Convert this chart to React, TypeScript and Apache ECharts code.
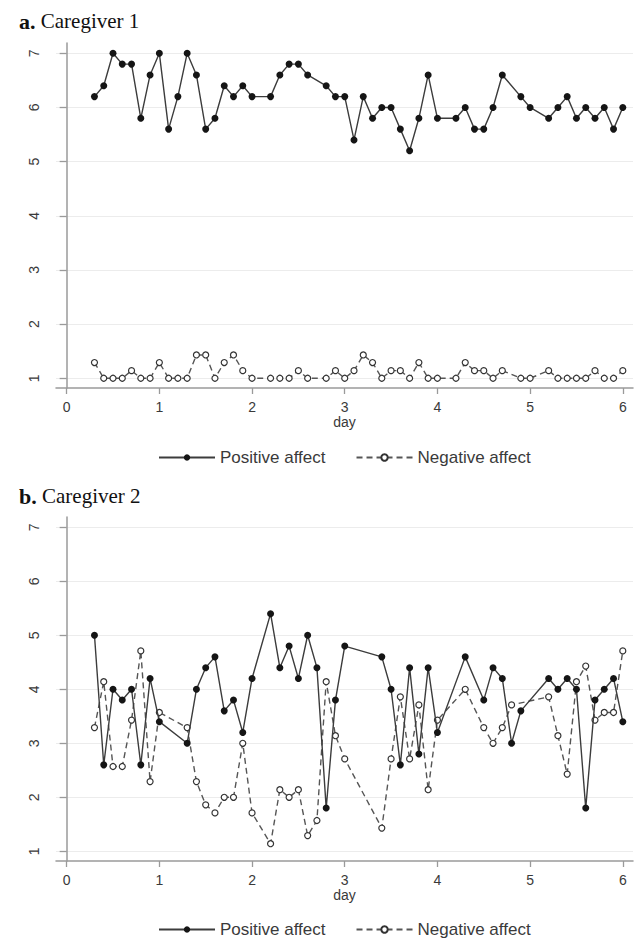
import React, { useEffect, useRef } from "react";
import * as echarts from "echarts";

// Panel a — Caregiver 1
const days1 = [
  0.3, 0.4, 0.5, 0.6, 0.7, 0.8, 0.9, 1.0, 1.1, 1.2, 1.3, 1.4, 1.5, 1.6, 1.7, 1.8, 1.9, 2.0,
  2.2, 2.3, 2.4, 2.5, 2.6,
  2.8, 2.9, 3.0, 3.1, 3.2, 3.3, 3.4, 3.5, 3.6, 3.7, 3.8, 3.9, 4.0,
  4.2, 4.3, 4.4, 4.5, 4.6, 4.7,
  4.9, 5.0,
  5.2, 5.3, 5.4, 5.5, 5.6, 5.7, 5.8, 5.9, 6.0,
];
const positive1 = [
  6.2, 6.4, 7.0, 6.8, 6.8, 5.8, 6.6, 7.0, 5.6, 6.2, 7.0, 6.6, 5.6, 5.8, 6.4, 6.2, 6.4, 6.2,
  6.2, 6.6, 6.8, 6.8, 6.6,
  6.4, 6.2, 6.2, 5.4, 6.2, 5.8, 6.0, 6.0, 5.6, 5.2, 5.8, 6.6, 5.8,
  5.8, 6.0, 5.6, 5.6, 6.0, 6.6,
  6.2, 6.0,
  5.8, 6.0, 6.2, 5.8, 6.0, 5.8, 6.0, 5.6, 6.0,
];
const negative1 = [
  1.29, 1.0, 1.0, 1.0, 1.14, 1.0, 1.0, 1.29, 1.0, 1.0, 1.0, 1.43, 1.43, 1.0, 1.29, 1.43, 1.14, 1.0,
  1.0, 1.0, 1.0, 1.14, 1.0,
  1.0, 1.14, 1.0, 1.14, 1.43, 1.29, 1.0, 1.14, 1.14, 1.0, 1.29, 1.0, 1.0,
  1.0, 1.29, 1.14, 1.14, 1.0, 1.14,
  1.0, 1.0,
  1.14, 1.0, 1.0, 1.0, 1.0, 1.14, 1.0, 1.0, 1.14,
];

// Panel b — Caregiver 2
const days2 = [
  0.3, 0.4, 0.5, 0.6, 0.7, 0.8, 0.9, 1.0,
  1.3, 1.4, 1.5, 1.6, 1.7, 1.8, 1.9, 2.0,
  2.2, 2.3, 2.4, 2.5, 2.6, 2.7, 2.8, 2.9, 3.0,
  3.4, 3.5, 3.6, 3.7, 3.8, 3.9, 4.0,
  4.3, 4.5, 4.6, 4.7, 4.8, 4.9,
  5.2, 5.3, 5.4, 5.5, 5.6, 5.7, 5.8, 5.9, 6.0,
];
const positive2 = [
  5.0, 2.6, 4.0, 3.8, 4.0, 2.6, 4.2, 3.4,
  3.0, 4.0, 4.4, 4.6, 3.6, 3.8, 3.2, 4.2,
  5.4, 4.4, 4.8, 4.2, 5.0, 4.4, 1.8, 3.8, 4.8,
  4.6, 4.0, 2.6, 4.4, 2.8, 4.4, 3.2,
  4.6, 3.8, 4.4, 4.2, 3.0, 3.6,
  4.2, 4.0, 4.2, 4.0, 1.8, 3.8, 4.0, 4.2, 3.4,
];
const negative2 = [
  3.29, 4.14, 2.57, 2.57, 3.43, 4.71, 2.29, 3.57,
  3.29, 2.29, 1.86, 1.71, 2.0, 2.0, 3.0, 1.71,
  1.14, 2.14, 2.0, 2.14, 1.29, 1.57, 4.14, 3.14, 2.71,
  1.43, 2.71, 3.86, 2.71, 3.71, 2.14, 3.43,
  4.0, 3.29, 3.0, 3.29, 3.71, null,
  3.86, 3.14, 2.43, 4.14, 4.43, 3.43, 3.57, 3.57, 4.71,
];

const xTicks = [0, 1, 2, 3, 4, 5, 6];
const yTicks = [1, 2, 3, 4, 5, 6, 7];
const seriesNames = ["Positive affect", "Negative affect"];
const panelTitles = ["Caregiver 1", "Caregiver 2"];
const panelLetters = ["a.", "b."];

const SANS = "Liberation Sans, Arial, Helvetica, sans-serif";
const SERIF = "Liberation Serif, Times New Roman, serif";
const AXIS_COLOR = "#9a9a9a";
const TEXT_COLOR = "#3a3a3a";

function pairs(days: number[], vals: (number | null)[]) {
  return days.map((d, i) => [d, vals[i]]);
}

export default function App() {
  const ref = useRef<HTMLDivElement>(null);

  useEffect(() => {
    if (!ref.current) return;
    const chart = echarts.init(ref.current, null, { renderer: "svg" });

    const grids = [
      { left: 56, top: 43, width: 577, height: 345 },
      { left: 56, top: 517, width: 577, height: 344 },
    ];

    const xAxis = grids.map((_, i) => ({
      type: "value",
      gridIndex: i,
      min: -0.115,
      max: 6.11,
      axisLine: { show: true, lineStyle: { color: AXIS_COLOR, width: 1.5 } },
      axisTick: {
        show: true,
        length: 6,
        customValues: xTicks,
        lineStyle: { color: AXIS_COLOR, width: 1.3 },
      },
      axisLabel: {
        customValues: xTicks,
        fontSize: 14,
        fontFamily: SANS,
        color: TEXT_COLOR,
        margin: 12,
      },
      splitLine: { show: false },
      name: "day",
      nameLocation: "middle",
      nameGap: 27,
      nameTextStyle: { fontSize: 14, fontFamily: SANS, color: TEXT_COLOR },
    }));

    const yAxis = grids.map((_, i) => ({
      type: "value",
      gridIndex: i,
      min: 0.82,
      max: 7.19,
      axisLine: { show: true, lineStyle: { color: AXIS_COLOR, width: 1.5 } },
      axisTick: {
        show: true,
        length: 7,
        customValues: yTicks,
        lineStyle: { color: AXIS_COLOR, width: 1.3 },
      },
      axisLabel: {
        customValues: yTicks,
        rotate: 90,
        fontSize: 14,
        fontFamily: SANS,
        color: TEXT_COLOR,
        margin: 15,
      },
      splitLine: { show: true, lineStyle: { color: "#ececec", width: 1.2 } },
    }));

    const panelData = [
      { pos: pairs(days1, positive1), neg: pairs(days1, negative1) },
      { pos: pairs(days2, positive2), neg: pairs(days2, negative2) },
    ];

    const series: any[] = [];
    panelData.forEach((p, i) => {
      series.push({
        type: "line",
        name: seriesNames[0],
        xAxisIndex: i,
        yAxisIndex: i,
        data: p.pos,
        connectNulls: true,
        symbol: "circle",
        symbolSize: 7,
        lineStyle: { color: "#3c3c3c", width: 1.4 },
        itemStyle: { color: "#151515" },
        z: 3,
      });
      series.push({
        type: "line",
        name: seriesNames[1],
        xAxisIndex: i,
        yAxisIndex: i,
        data: p.neg,
        connectNulls: true,
        symbol: "circle",
        symbolSize: 6,
        lineStyle: { color: "#555555", width: 1.4, type: [6, 4] },
        itemStyle: { color: "#ffffff", borderColor: "#333333", borderWidth: 1.2 },
        z: 2,
      });
    });

    const legendTops = [444, 916];
    const legend = legendTops.map((t) => ({
      data: seriesNames,
      left: 153,
      top: t,
      itemWidth: 56,
      itemHeight: 8,
      itemGap: 30,
      selectedMode: false,
      textStyle: { fontSize: 17, fontFamily: SANS, color: TEXT_COLOR },
    }));

    const titleTops = [5, 480];
    const title = titleTops.map((t, i) => ({
      text: `{b|${panelLetters[i]}} ${panelTitles[i]}`,
      left: 14,
      top: t,
      textStyle: {
        fontFamily: SERIF,
        fontSize: 21,
        fontWeight: "normal",
        color: "#111",
        rich: {
          b: { fontFamily: SERIF, fontSize: 22, fontWeight: "bold", color: "#111" },
        },
      },
    }));

    chart.setOption({
      animation: false,
      backgroundColor: "#ffffff",
      title,
      legend,
      grid: grids,
      xAxis,
      yAxis,
      series,
    } as any);

    return () => chart.dispose();
  }, []);

  return (
    <div
      ref={ref}
      style={{ position: "absolute", left: 0, top: 0, width: 640, height: 939 }}
    />
  );
}
